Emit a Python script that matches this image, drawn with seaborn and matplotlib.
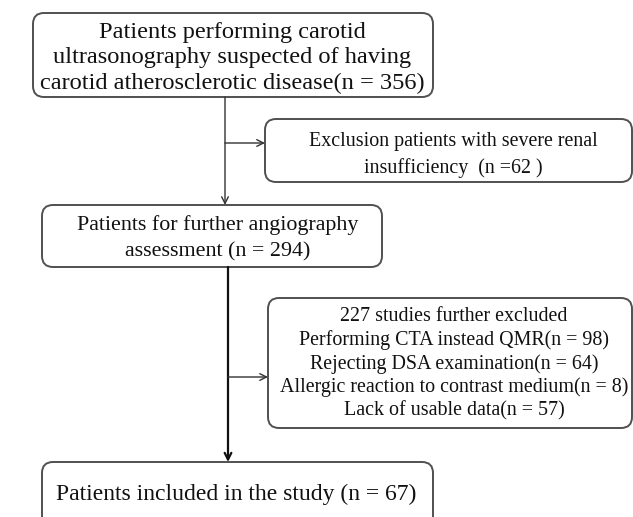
import matplotlib
matplotlib.use("Agg")
from matplotlib import pyplot as plt
from matplotlib.patches import FancyBboxPatch
import seaborn as sns

# === Flowchart content ===
box_texts = [
    "Patients performing carotid\nultrasonography suspected of having\ncarotid atherosclerotic disease(n = 356)",
    "Exclusion patients with severe renal\ninsufficiency  (n =62 )",
    "Patients for further angiography\nassessment (n = 294)",
    "227 studies further excluded\nPerforming CTA instead QMR(n = 98)\nRejecting DSA examination(n = 64)\n"
    "Allergic reaction to contrast medium(n = 8)\nLack of usable data(n = 57)",
    "Patients included in the study (n = 67)",
]
# box geometry in pixels: left, top, right, bottom
box_extents = [
    (33, 13, 433, 97),
    (265, 119, 632, 182),
    (42, 205, 382, 267),
    (268, 298, 632, 428),
    (42, 462, 433, 530),
]
font_sizes = [17.6, 14.4, 15.8, 14.4, 17]
line_gaps = [1.3, 1.45, 1.49, 1.26, 1.0]
text_pos = [(232, 58), (453, 155), (218, 238), (454, 364), (236, 494)]

sns.set_theme(style="white")
plt.rcParams['font.family'] = ['Liberation Serif', 'DejaVu Serif']

fig = plt.figure(figsize=(6.33, 5.17), dpi=100)
ax = fig.add_axes([0, 0, 1, 1])
ax.set_xlim(0, 633)
ax.set_ylim(517, 0)
ax.axis('off')

for (l, t, r, b), txt, fs, ls, (tx, ty) in zip(box_extents, box_texts, font_sizes, line_gaps, text_pos):
    ax.add_patch(FancyBboxPatch((l, t), r - l, b - t,
                                boxstyle="round,pad=0,rounding_size=11",
                                fc='white', ec='#505050', lw=1.4))
    ax.text(tx, ty, txt, ha='center', va='center', fontsize=fs,
            linespacing=ls, color='#111111')

arrow_kw = dict(arrowstyle='->', color='#333333', lw=1.0, shrinkA=0, shrinkB=0)
# main flow
ax.annotate('', xy=(225, 205), xytext=(225, 97), arrowprops=arrow_kw)
ax.annotate('', xy=(228, 462), xytext=(228, 267),
            arrowprops=dict(arrow_kw, lw=1.6, color='#111111'))
# side branches
ax.annotate('', xy=(265, 143), xytext=(225, 143), arrowprops=arrow_kw)
ax.annotate('', xy=(268, 377), xytext=(228, 377), arrowprops=arrow_kw)

fig.savefig('out.png', dpi=100)
plt.close()
